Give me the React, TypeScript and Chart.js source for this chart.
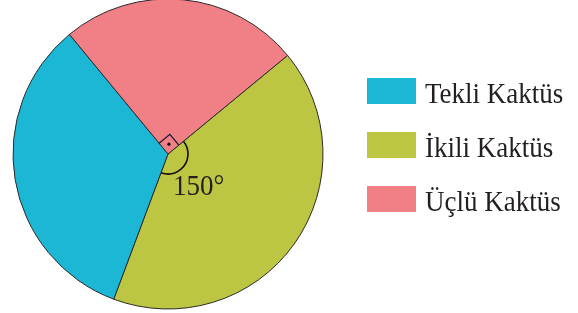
import React, { useEffect, useRef } from 'react';
import { Chart, registerables } from 'chart.js';

Chart.register(...registerables);

// Data (central angles in degrees), in clockwise drawing order
const labels = ['İkili Kaktüs', 'Tekli Kaktüs', 'Üçlü Kaktüs'];
const angles = [150, 120, 90];
const colors = ['#BCC642', '#1DB7D6', '#F17F86'];
const legendOrder = ['Tekli Kaktüs', 'İkili Kaktüs', 'Üçlü Kaktüs'];
const angleLabel = '150°';

const FONT = '"Liberation Serif", "DejaVu Serif", serif';
const TEXT_COLOR = '#231F20';
const FONT_SIZE = 30;
const X_SCALE = 0.9;

const annotationPlugin = {
  id: 'annotations',
  afterDraw(chart: any) {
    const ctx = chart.ctx as CanvasRenderingContext2D;
    const meta = chart.getDatasetMeta(0);
    const arcs = meta.data;
    ctx.save();

    // Right-angle marker in the 90° slice
    const right = arcs[labels.indexOf('Üçlü Kaktüs')] as any;
    if (right) {
      const { x, y, startAngle, endAngle } = right.getProps(['x', 'y', 'startAngle', 'endAngle'], true);
      const d = 14;
      const p1x = x + d * Math.cos(startAngle), p1y = y + d * Math.sin(startAngle);
      const p3x = x + d * Math.cos(endAngle), p3y = y + d * Math.sin(endAngle);
      const p2x = p1x + p3x - x, p2y = p1y + p3y - y;
      ctx.beginPath();
      ctx.moveTo(p1x, p1y);
      ctx.lineTo(p2x, p2y);
      ctx.lineTo(p3x, p3y);
      ctx.strokeStyle = '#1a1a2e';
      ctx.lineWidth = 1.3;
      ctx.stroke();
      ctx.beginPath();
      ctx.arc((x + p2x) / 2, (y + p2y) / 2, 1.6, 0, Math.PI * 2);
      ctx.fillStyle = '#111';
      ctx.fill();
    }

    // 150° arc marker
    const big = arcs[labels.indexOf('İkili Kaktüs')] as any;
    if (big) {
      const { x, y, startAngle, endAngle } = big.getProps(['x', 'y', 'startAngle', 'endAngle'], true);
      ctx.beginPath();
      ctx.arc(x, y, 20, startAngle, endAngle);
      ctx.strokeStyle = '#111';
      ctx.lineWidth = 1.6;
      ctx.stroke();

      ctx.save();
      ctx.translate(x + 5, y + 41);
      ctx.scale(X_SCALE, 1);
      ctx.font = `${FONT_SIZE}px ${FONT}`;
      ctx.fillStyle = TEXT_COLOR;
      ctx.textBaseline = 'alphabetic';
      ctx.textAlign = 'left';
      ctx.fillText(angleLabel, 0, 0);
      ctx.restore();
    }

    // Legend
    const bg = chart.data.datasets[0].backgroundColor as string[];
    legendOrder.forEach((lab, i) => {
      const idx = chart.data.labels.indexOf(lab);
      const top = 78 + i * 54;
      ctx.fillStyle = bg[idx];
      ctx.fillRect(367, top, 49, 26);
      ctx.save();
      ctx.translate(425, top + 25);
      ctx.scale(X_SCALE, 1);
      ctx.font = `${FONT_SIZE}px ${FONT}`;
      ctx.fillStyle = TEXT_COLOR;
      ctx.textBaseline = 'alphabetic';
      ctx.textAlign = 'left';
      ctx.fillText(lab, 0, 0);
      ctx.restore();
    });

    ctx.restore();
  },
};

export default function App() {
  const ref = useRef<HTMLCanvasElement>(null);

  useEffect(() => {
    if (!ref.current) return;
    const chart = new Chart(ref.current, {
      type: 'pie',
      data: {
        labels,
        datasets: [
          {
            data: angles,
            backgroundColor: colors,
            borderColor: '#2a2a2a',
            borderWidth: 1,
            clip: false as any,
          },
        ],
      },
      options: {
        responsive: false,
        animation: false,
        rotation: 50.5,
        radius: 155,
        layout: { padding: { left: 0, right: 242, top: 0, bottom: 5 } },
        plugins: {
          legend: { display: false },
          tooltip: { enabled: false },
        },
      },
      plugins: [annotationPlugin],
    });
    return () => chart.destroy();
  }, []);

  return (
    <div style={{ position: 'absolute', left: 0, top: 0, width: 578, height: 313, background: '#fff' }}>
      <canvas ref={ref} width={578} height={313} />
    </div>
  );
}
